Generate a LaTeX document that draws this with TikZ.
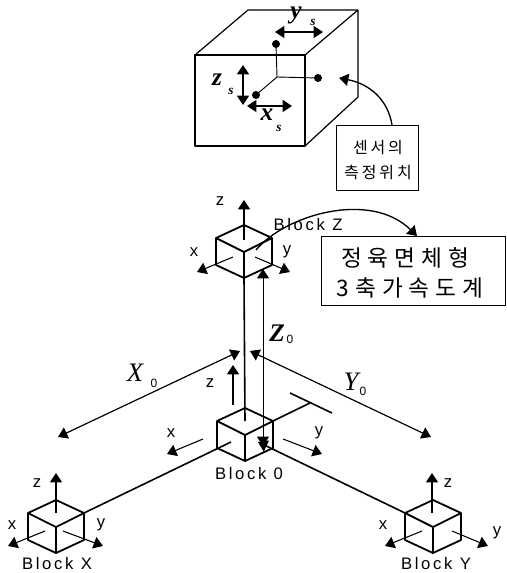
\documentclass[tikz,border=0pt]{standalone}
\usepackage{fontspec}
\usetikzlibrary{arrows.meta}
\setmainfont{Liberation Sans}
\newfontfamily\lab[LetterSpace=16]{Liberation Sans}
\newfontfamily\var{Liberation Serif}
\newfontfamily\krsmall[LetterSpace=18]{Noto Sans CJK KR}
\newfontfamily\krbig[LetterSpace=26]{Noto Sans CJK KR}
\tikzset{
  cubeline/.style={line width=1.35pt,black,line join=round},
  thinline/.style={line width=0.7pt,black},
  conn/.style={line width=1.2pt,black},
  dim/.style={line width=0.8pt,black,-{Triangle[length=7pt,width=9pt]}},
  dimboth/.style={line width=0.8pt,black,{Triangle[length=7pt,width=9pt]}-{Triangle[length=7pt,width=9pt]}},
  axislabel/.style={font=\lab\fontsize{12.5}{14}\selectfont,inner sep=0pt},
  varname/.style={font=\var\bfseries\itshape\fontsize{19}{21}\selectfont,inner sep=0pt},
  varplain/.style={font=\var\itshape\fontsize{20}{22}\selectfont,inner sep=0pt},
  varsub/.style={font=\var\bfseries\itshape\fontsize{10}{12}\selectfont,inner sep=0pt},
  numsub/.style={font=\fontsize{9}{11}\selectfont,inner sep=0pt},
  calloutbox/.style={draw,line width=0.85pt,inner sep=0pt},
}
\newcommand{\isocube}[3]{%
  \coordinate (#1c) at (#2,#3);
  \coordinate (#1t) at (#2,#3-27);
  \coordinate (#1l) at (#2-28,#3-14);
  \coordinate (#1r) at (#2+28,#3-14);
  \coordinate (#1b) at (#2,#3+26);
  \coordinate (#1lb) at (#2-28,#3+13);
  \coordinate (#1rb) at (#2+28,#3+13);
  \draw[cubeline] (#1t) -- (#1l) -- (#1lb) -- (#1b) -- (#1rb) -- (#1r) -- cycle;
  \draw[cubeline] (#1l) -- (#1c) -- (#1r) (#1c) -- (#1b);
}
\newcommand{\axisarrow}[5]{%
  \coordinate (#1s) at (#2,#3);
  \coordinate (#1e) at (#4,#5);
  \draw[dim] (#1s) -- (#1e);
}
\begin{document}
\begin{tikzpicture}[x=0.75pt,y=-0.75pt]
\useasboundingbox (0,0) rectangle (506,573);
% sensor cube
\coordinate (fa) at (195,55); \coordinate (fb) at (305,55);
\coordinate (fc) at (305,146); \coordinate (fd) at (195,146);
\coordinate (ba) at (248,10); \coordinate (bb) at (358,10); \coordinate (bc) at (358,97);
\draw[line width=0.9pt,line join=round] (fa) rectangle (fc);
\draw[line width=0.9pt,line join=round] (fa) -- (ba) -- (bb) -- (bc) -- (fc) (fb) -- (bb);
\coordinate (junc) at (277,77);
\coordinate (dtop) at (276,44);
\coordinate (dright) at (318,78);
\coordinate (dfront) at (256,95);
\draw[thinline] (dtop) -- (junc) -- (dright) (junc) -- (dfront);
\foreach \d in {dtop,dright,dfront} \fill (\d) circle (3pt);
\coordinate (ysa) at (275,32); \coordinate (ysb) at (323,32);
\draw[dimboth] (ysa) -- (ysb);
\coordinate (zsa) at (243,65); \coordinate (zsb) at (243,105);
\draw[dimboth] (zsa) -- (zsb);
\coordinate (xsa) at (247,106); \coordinate (xsb) at (292,106);
\draw[dimboth] (xsa) -- (xsb);
\node[varname] (ys) at (296,15) {y};
\node[varsub] (yss) at (313,22) {s};
\node[varname] (zs) at (217,80) {z};
\node[varsub] (zss) at (231,91) {s};
\node[varname] (xs) at (267,115) {x};
\node[varsub] (xss) at (279,128) {s};
% sensor callout
\node[calloutbox,minimum width=61.5pt,minimum height=48.75pt,anchor=north west] (sbox) at (336,125) {};
\node[font=\krsmall\fontsize{12}{14}\selectfont,inner sep=0pt] (s1) at (378,148) {센서의};
\node[font=\krsmall\fontsize{12}{14}\selectfont,inner sep=0pt] (s2) at (378,172) {측정위치};
\coordinate (stip) at (339,78);
\coordinate (sstart) at (392,125);
\draw[dim,line width=1pt] (sstart) .. controls (388,100) and (370,84) .. (stip);
% cubes
\isocube{Z}{244}{252}
\isocube{O}{245}{435}
\isocube{X}{56}{527}
\isocube{Y}{433}{527}
% connectors
\coordinate (xin) at (231,442);
\coordinate (yin) at (258,442);
\draw[conn] (xin) -- (Xr);
\draw[dim,line width=1.2pt] (Yl) -- (yin);
\coordinate (vend) at (245,421);
\draw[conn] (Zb) -- (vend);
\coordinate (tickc) at (310,403);
\coordinate (ticka) at (290,393);
\coordinate (tickb) at (332,413);
\draw[conn] (Or) -- (tickc);
\draw[conn] (ticka) -- (tickb);
% dimension lines
\coordinate (x0far) at (58,437);
\coordinate (x0near) at (240,351);
\draw[dimboth,line width=0.9pt] (x0far) -- (x0near);
\coordinate (y0far) at (431,437);
\coordinate (y0near) at (250,351);
\draw[dimboth,line width=0.9pt] (y0far) -- (y0near);
\coordinate (z0top) at (263,269);
\coordinate (z0bot) at (263,446);
\draw[dimboth,line width=0.7pt] (z0top) -- (z0bot);
\node[varplain] (X0) at (135,373) {X};
\node[numsub] (X0s) at (154,383) {0};
\node[varplain] (Y0) at (351,382) {Y};
\node[numsub] (Y0s) at (363,391) {0};
\node[varname] (Z0) at (277,333) {Z};
\node[numsub] (Z0s) at (290,339) {0};
% axes of Block Z
\axisarrow{zz}{244}{240}{244}{200}
\axisarrow{zx}{233}{257}{197}{272}
\axisarrow{zy}{255}{257}{290}{272}
\node[axislabel] (zzl) at (220,201) {z};
\node[axislabel] (zxl) at (194,252) {x};
\node[axislabel] (zyl) at (287,252) {y};
\node[axislabel] (zname) at (308,225) {Block Z};
% big callout
\node[calloutbox,minimum width=138pt,minimum height=51.75pt,anchor=north west] (bbox) at (321,236) {};
\node[font=\krbig\fontsize{17}{19}\selectfont,inner sep=0pt] (b1) at (405,258) {정육면체형};
\node[font=\krbig\fontsize{17}{19}\selectfont,inner sep=0pt] (b2) at (410,288) {3축가속도계};
\coordinate (bstart) at (256,250);
\coordinate (btip) at (417,236);
\draw[dim,line width=1pt] (bstart) .. controls (285,215) and (370,190) .. (btip);
% axes of Block 0
\axisarrow{oz}{233}{405}{233}{365}
\axisarrow{ox}{203}{439}{167}{454}
\axisarrow{oy}{283}{439}{322}{454}
\node[axislabel] (ozl) at (210,383) {z};
\node[axislabel] (oxl) at (171,433) {x};
\node[axislabel] (oyl) at (319,433) {y};
\node[axislabel] (oname) at (249,474) {Block 0};
% axes of Block X
\axisarrow{xz}{56}{513}{56}{473}
\axisarrow{xx}{45}{531}{8}{546}
\axisarrow{xy}{63}{531}{103}{546}
\node[axislabel] (xzl) at (37,483) {z};
\node[axislabel] (xxl) at (12,525) {x};
\node[axislabel] (xyl) at (101,525) {y};
\node[axislabel] (xname) at (57,564) {Block X};
% axes of Block Y
\axisarrow{yz}{432}{513}{432}{473}
\axisarrow{yx}{422}{531}{385}{546}
\axisarrow{yy}{452}{531}{488}{546}
\node[axislabel] (yzl) at (448,483) {z};
\node[axislabel] (yxl) at (383,525) {x};
\node[axislabel] (yyl) at (497,533) {y};
\node[axislabel] (yname) at (436,564) {Block Y};
\end{tikzpicture}
\end{document}
